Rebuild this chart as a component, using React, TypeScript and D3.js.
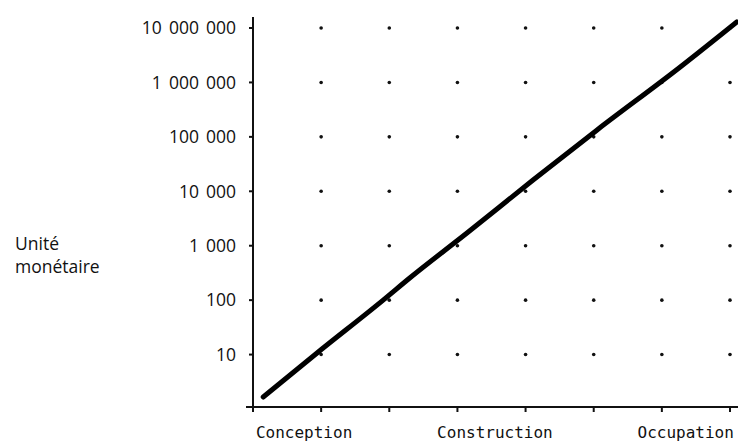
import React from "react";
import * as d3 from "d3";

const yTickValues = [10, 100, 1000, 10000, 100000, 1000000, 10000000];
const yTickLabels = ["10", "100", "1 000", "10 000", "100 000", "1 000 000", "10 000 000"];
const xTickValues = [0, 1, 2, 3, 4, 5, 6, 7];
const gridCols = [1, 2, 3, 4, 5, 6, 7];
const stageLabels = ["Conception", "Construction", "Occupation"];
const stagePos = [0.75, 3.55, 6.35];
const curveX = [0.15, 0.94, 1.91, 2.3, 3.14, 4.11, 5.05, 6.27, 7.1];
const curveY = [1.66, 10.7, 100, 255, 1710, 16100, 134000, 1920000, 12900000];
const yAxisTitle = ["Unité", "monétaire"];

export default function App() {
  const W = 738, H = 443;
  const x = d3.scaleLinear().domain([0, 7]).range([253, 730]);
  const y = d3.scaleLog().domain([1, 10000000]).range([409, 28]);
  const line = d3.line<number>().x((_, i) => x(curveX[i])).y((d) => y(d)).curve(d3.curveMonotoneX);
  const labelFont = "'Open Sans', 'Noto Sans', sans-serif";
  return (
    <svg width={W} height={H} style={{ position: "absolute", left: 0, top: 0, background: "#fff" }}>
      {yTickValues.map((v) =>
        gridCols.map((c) => (
          <circle key={`${v}-${c}`} cx={x(c)} cy={y(v)} r={1.8} fill="#111" />
        ))
      )}
      <line x1={x(0)} x2={x(0)} y1={17} y2={408} stroke="#111" strokeWidth={2} />
      {yTickValues.map((v, i) => (
        <g key={v}>
          <line x1={x(0) - 4} x2={x(0)} y1={y(v)} y2={y(v)} stroke="#111" strokeWidth={2} />
          <text x={236} y={y(v)} dy="0.36em" textAnchor="end" fontFamily={labelFont} fontSize={17.5} wordSpacing={2.5} fill="#111">
            {yTickLabels[i]}
          </text>
        </g>
      ))}
      <line x1={246} x2={738} y1={407} y2={407} stroke="#111" strokeWidth={2} />
      {xTickValues.map((v) => (
        <line key={v} x1={x(v)} x2={x(v)} y1={407} y2={412} stroke="#111" strokeWidth={2} />
      ))}
      {stageLabels.map((s, i) => (
        <text key={s} x={x(stagePos[i])} y={438} textAnchor="middle" fontFamily="'DejaVu Sans Mono', monospace" fontSize={16} fill="#111">
          {s}
        </text>
      ))}
      {yAxisTitle.map((t, i) => (
        <text key={t} x={15} y={250 + i * 23} fontFamily={labelFont} fontSize={17.5} fill="#111">
          {t}
        </text>
      ))}
      <path d={line(curveY) || ""} fill="none" stroke="#000" strokeWidth={5} strokeLinecap="round" strokeLinejoin="round" />
    </svg>
  );
}
